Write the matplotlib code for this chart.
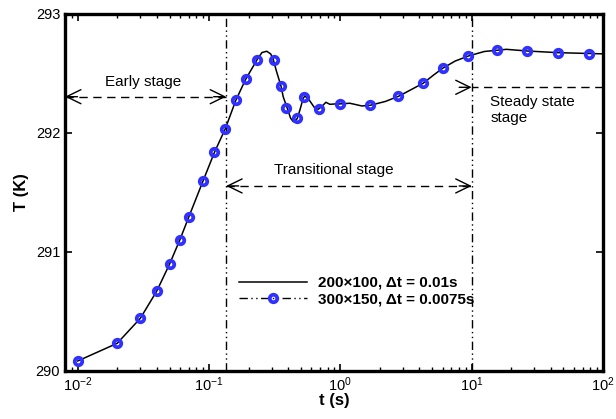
import numpy as np
import matplotlib.pyplot as plt
from matplotlib.lines import Line2D

plt.rcParams['font.family'] = ['Liberation Sans', 'DejaVu Sans']
plt.rcParams['mathtext.default'] = 'regular'

# 200x100 grid, dt = 0.01 s
t_coarse = [0.01, 0.02, 0.03, 0.04, 0.05, 0.06, 0.07, 0.09, 0.11, 0.133,
            0.16, 0.19, 0.233, 0.253, 0.275, 0.295, 0.308, 0.327, 0.353, 0.367,
            0.394, 0.418, 0.438, 0.469, 0.492, 0.521, 0.537, 0.579, 0.64, 0.678,
            0.719, 0.776, 0.832, 0.908, 0.98, 1.18, 1.46, 1.69, 2.2, 2.77,
            3.4, 4.27, 5.1, 6.05, 7.5, 9.44, 12.5, 18.4, 26.5, 45.4, 100]
T_coarse = [290.084, 290.233, 290.443, 290.672, 290.897, 291.103, 291.292, 291.597, 291.838, 292.036,
            292.275, 292.451, 292.619, 292.676, 292.687, 292.664, 292.619, 292.515, 292.395, 292.305,
            292.208, 292.124, 292.095, 292.120, 292.193, 292.292, 292.311, 292.277, 292.208, 292.199,
            292.221, 292.258, 292.241, 292.244, 292.244, 292.250, 292.227, 292.233, 292.265, 292.308,
            292.360, 292.418, 292.485, 292.546, 292.605, 292.647, 292.685, 292.703, 292.689, 292.675, 292.665]

# 300x150 grid, dt = 0.0075 s
t_fine = [0.01, 0.02, 0.03, 0.04, 0.05, 0.06, 0.07, 0.09, 0.11, 0.133,
          0.16, 0.19, 0.23, 0.31, 0.353, 0.383, 0.464, 0.531, 0.687, 1.0,
          1.69, 2.77, 4.27, 6.05, 9.44, 15.7, 26.5, 45.4, 77.6]
T_fine = [290.084, 290.233, 290.443, 290.672, 290.897, 291.103, 291.292, 291.597, 291.838, 292.036,
          292.275, 292.451, 292.613, 292.613, 292.395, 292.213, 292.123, 292.300, 292.199, 292.241,
          292.233, 292.308, 292.418, 292.546, 292.647, 292.697, 292.689, 292.675, 292.666]

labels = ['200\u00d7100, \u0394t = 0.01s', '300\u00d7150, \u0394t = 0.0075s']

# stage boundaries (s)
t_early = 0.135
t_steady = 10.0
x_min, x_max = 0.008, 100

blue = '#3030ff'
dashdotdot = (0, (6, 2.5, 1, 2.5, 1, 2.5))
marker_kw = dict(marker='o', ms=5.4, mew=2.7, mec=blue, mfc='none')

fig = plt.figure(figsize=(6.16, 4.19), dpi=100)
ax = fig.add_axes([0.1055, 0.1146, 0.8734, 0.852])

ax.plot(t_coarse, T_coarse, color='black', lw=1.1, zorder=3)
ax.plot(t_fine, T_fine, linestyle='none', zorder=4, **marker_kw)

ax.axvline(t_early, color='black', lw=1, linestyle=dashdotdot, zorder=2)
ax.axvline(t_steady, color='black', lw=1, linestyle=dashdotdot, zorder=2)


def stage_arrow(x0, x1, y, both=True):
    ax.plot([x0, x1], [y, y], color='black', lw=1, dashes=[6, 4], zorder=2)
    head = dict(arrowstyle='->,head_length=0.45,head_width=0.22', lw=1,
                color='black', mutation_scale=23, shrinkA=0, shrinkB=0)
    ax.annotate('', xy=(x1, y), xytext=(-9, 0), textcoords='offset points',
                arrowprops=head)
    if both:
        ax.annotate('', xy=(x0, y), xytext=(9, 0), textcoords='offset points',
                    arrowprops=head)


stage_arrow(x_min, t_early, 292.305)
stage_arrow(t_early, t_steady, 291.555)
stage_arrow(x_max, t_steady, 292.384, both=False)

ax.text(0.0315, 292.43, 'Early stage', fontsize=11, ha='center', va='center')
ax.text(0.893, 291.69, 'Transitional stage', fontsize=11, ha='center', va='center')
ax.text(13.9, 292.193, 'Steady state\nstage', fontsize=11, ha='left', va='center',
        linespacing=1.15)

handles = [Line2D([], [], color='black', lw=1.1),
           Line2D([], [], color='black', lw=1, linestyle=dashdotdot, **marker_kw)]
ax.legend(handles, labels, loc='center left', bbox_to_anchor=(0.297, 0.224),
          frameon=False, prop={'weight': 'bold', 'size': 11},
          handlelength=4.5, handletextpad=0.7, labelspacing=0.15, borderpad=0.4)

ax.set_xscale('log')
ax.set_xlim(x_min, x_max)
ax.set_ylim(290, 293)
ax.set_yticks([290, 291, 292, 293])

ax.set_xlabel('t (s)', fontsize=12, fontweight='bold', labelpad=-1)
ax.set_ylabel('T (K)', fontsize=12, fontweight='bold', labelpad=5)

ax.tick_params(which='both', direction='in', top=True, right=True, labelsize=10.5)
ax.tick_params(which='major', length=5, width=1.2)
ax.tick_params(which='minor', length=3, width=1)
ax.tick_params(axis='y', which='minor', left=False, right=False)
for sp in ax.spines.values():
    sp.set_linewidth(2.4)

fig.savefig('out.png', dpi=100)
